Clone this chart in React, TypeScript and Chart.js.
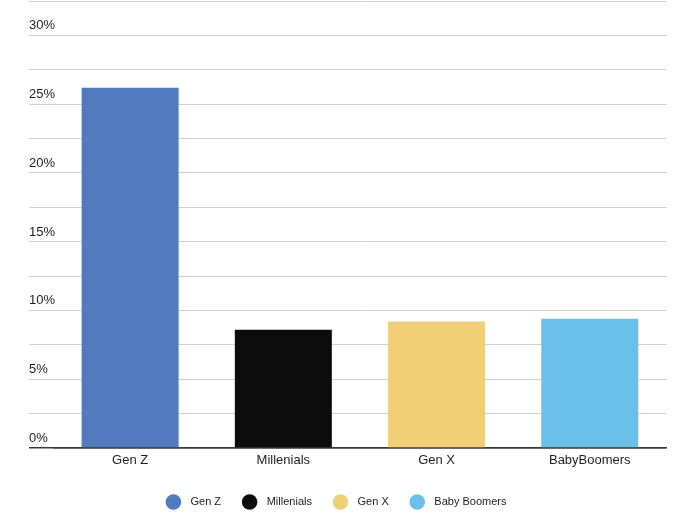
import React, { useEffect, useRef } from "react";
import { Chart, registerables } from "chart.js";

Chart.register(...registerables);

// Generations shown on the x axis and their share (%)
const categories = ["Gen Z", "Millenials", "Gen X", "BabyBoomers"];
const legendLabels = ["Gen Z", "Millenials", "Gen X", "Baby Boomers"];
const shares = [26.2, 8.6, 9.2, 9.4];
const barColors = ["#527abf", "#0c0c0c", "#f1cf77", "#6cbfe8"];

// Y axis: gridline every 2.5%, label every 5%
const yMax = 32.5;
const yStep = 2.5;

const FONT = "'Liberation Sans', Arial, Helvetica, sans-serif";

export default function App() {
  const canvasRef = useRef<HTMLCanvasElement | null>(null);

  useEffect(() => {
    const canvas = canvasRef.current;
    if (!canvas) return;

    const chart = new Chart(canvas, {
      type: "bar",
      data: {
        labels: categories,
        datasets: [
          {
            label: "Share",
            data: shares,
            backgroundColor: barColors,
            borderWidth: 0,
            categoryPercentage: 1,
            barPercentage: 0.633,
          },
        ],
      },
      options: {
        responsive: false,
        animation: false,
        layout: { padding: { left: 8, right: 20.6, top: 1, bottom: -4.5 } },
        scales: {
          x: {
            z: 1,
            grid: { display: false, drawTicks: false },
            border: { display: true, color: "#3a3a3a", width: 1.5 },
            ticks: {
              color: "#1e1e1e",
              font: { family: FONT, size: 13 },
              padding: 5,
            },
          },
          y: {
            min: 0,
            max: yMax,
            border: { display: false },
            grid: {
              color: (ctx: any) =>
                ctx.tick && ctx.tick.value === 0 ? "#3a3a3a" : "#d2d2d2",
              lineWidth: (ctx: any) => (ctx.tick && ctx.tick.value === 0 ? 1.5 : 1),
              drawTicks: true,
              tickLength: 24.5,
            },
            ticks: {
              stepSize: yStep,
              mirror: true,
              padding: -24.5,
              labelOffset: -9.5,
              color: "#1e1e1e",
              font: { family: FONT, size: 13 },
              callback: (v: any) => (Number(v) % 5 === 0 ? `${v}%` : ""),
            },
            afterFit: (scale: any) => {
              scale.width = 45.5;
              scale.paddingTop = 0;
              scale.paddingBottom = 0;
            },
          },
        },
        plugins: {
          tooltip: { enabled: false },
          legend: {
            position: "bottom",
            onClick: () => {},
            labels: {
              usePointStyle: true,
              pointStyle: "circle",
              padding: 23,
              color: "#1e1e1e",
              font: { family: FONT, size: 11 },
              generateLabels: () =>
                legendLabels.map((text, i) => ({
                  text: `  ${text}`,
                  fillStyle: barColors[i],
                  strokeStyle: barColors[i],
                  lineWidth: 0,
                  pointStyle: "circle",
                  hidden: false,
                  index: i,
                  fontColor: "#1e1e1e",
                })),
            },
          },
        },
      },
    });

    return () => chart.destroy();
  }, []);

  return (
    <canvas
      ref={canvasRef}
      width={687}
      height={513}
      style={{ position: "fixed", left: 0, top: 0, display: "block", background: "#fff" }}
    />
  );
}
